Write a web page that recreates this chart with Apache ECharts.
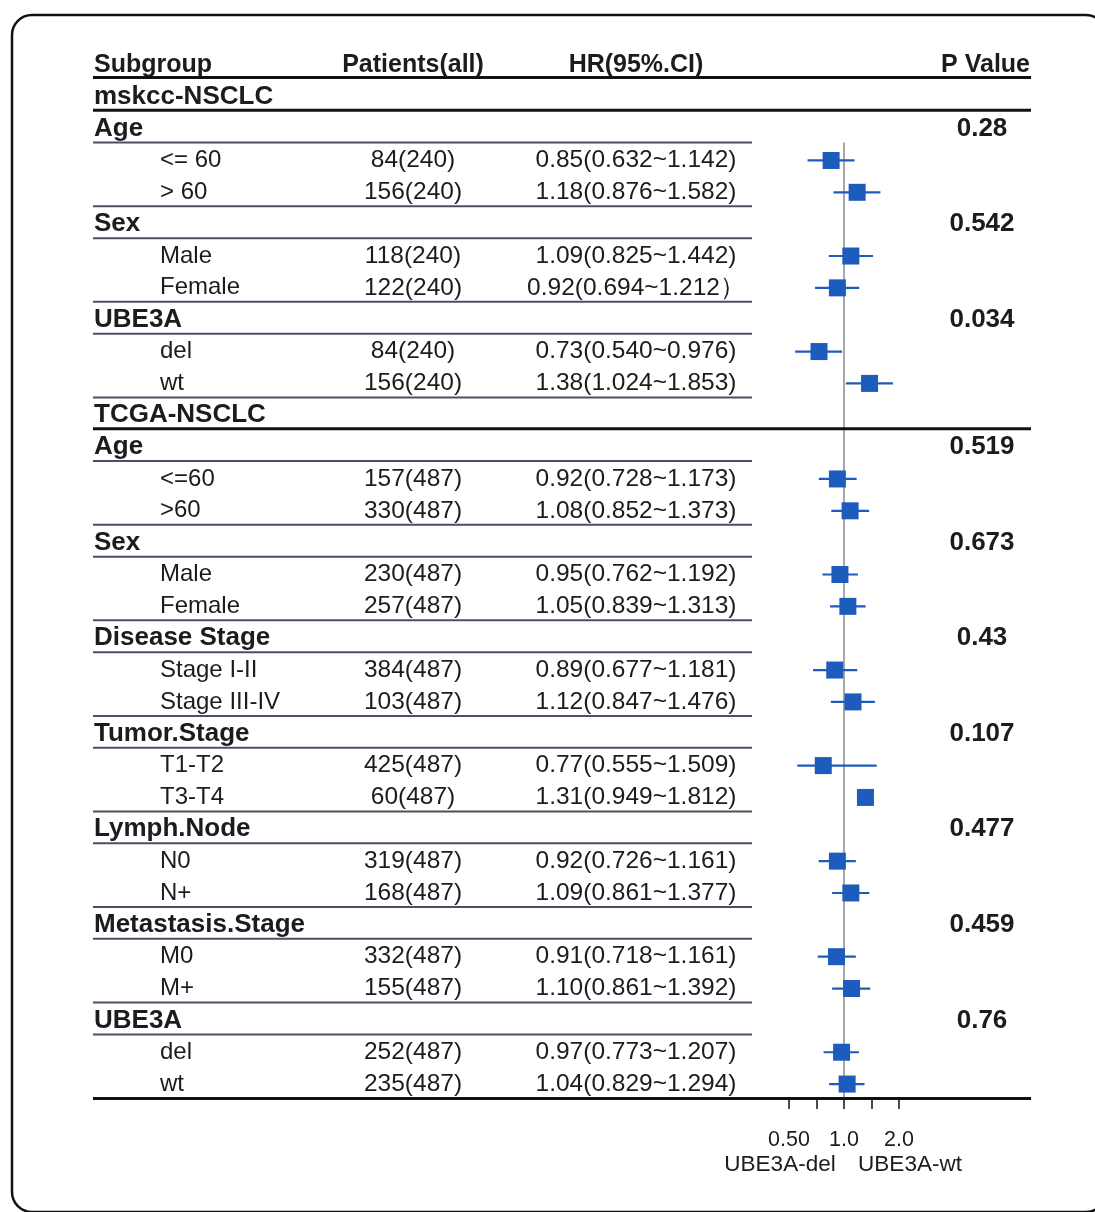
<!DOCTYPE html>
<html>
<head>
<meta charset="utf-8">
<script src="https://cdn.jsdelivr.net/npm/echarts@6/dist/echarts.min.js"></script>
<style>
  html, body { margin: 0; padding: 0; background: #ffffff; }
  #chart { width: 1095px; height: 1212px; }
</style>
</head>
<body>
<div id="chart"></div>
<script>
// ---------------- DATA ----------------
const headerLabels = ['Subgroup', 'Patients(all)', 'HR(95%.CI)', 'P Value'];

const subgroups = ['mskcc-NSCLC', 'Age', '<= 60', '> 60', 'Sex', 'Male', 'Female', 'UBE3A', 'del', 'wt',
  'TCGA-NSCLC', 'Age', '<=60', '>60', 'Sex', 'Male', 'Female', 'Disease Stage', 'Stage I-II', 'Stage III-IV',
  'Tumor.Stage', 'T1-T2', 'T3-T4', 'Lymph.Node', 'N0', 'N+', 'Metastasis.Stage', 'M0', 'M+', 'UBE3A', 'del', 'wt'];

const rowKinds = ['dataset', 'group', 'item', 'item', 'group', 'item', 'item', 'group', 'item', 'item',
  'dataset', 'group', 'item', 'item', 'group', 'item', 'item', 'group', 'item', 'item',
  'group', 'item', 'item', 'group', 'item', 'item', 'group', 'item', 'item', 'group', 'item', 'item'];

const patients = ['', '', '84(240)', '156(240)', '', '118(240)', '122(240)', '', '84(240)', '156(240)',
  '', '', '157(487)', '330(487)', '', '230(487)', '257(487)', '', '384(487)', '103(487)',
  '', '425(487)', '60(487)', '', '319(487)', '168(487)', '', '332(487)', '155(487)', '', '252(487)', '235(487)'];

const hrText = ['', '', '0.85(0.632~1.142)', '1.18(0.876~1.582)', '', '1.09(0.825~1.442)', '0.92(0.694~1.212）', '', '0.73(0.540~0.976)', '1.38(1.024~1.853)',
  '', '', '0.92(0.728~1.173)', '1.08(0.852~1.373)', '', '0.95(0.762~1.192)', '1.05(0.839~1.313)', '', '0.89(0.677~1.181)', '1.12(0.847~1.476)',
  '', '0.77(0.555~1.509)', '1.31(0.949~1.812)', '', '0.92(0.726~1.161)', '1.09(0.861~1.377)', '', '0.91(0.718~1.161)', '1.10(0.861~1.392)', '', '0.97(0.773~1.207)', '1.04(0.829~1.294)'];

const pValues = ['', '0.28', '', '', '0.542', '', '', '0.034', '', '',
  '', '0.519', '', '', '0.673', '', '', '0.43', '', '',
  '0.107', '', '', '0.477', '', '', '0.459', '', '', '0.76', '', ''];

const hr = [null, null, 0.85, 1.18, null, 1.09, 0.92, null, 0.73, 1.38,
  null, null, 0.92, 1.08, null, 0.95, 1.05, null, 0.89, 1.12,
  null, 0.77, 1.31, null, 0.92, 1.09, null, 0.91, 1.10, null, 0.97, 1.04];

// whiskers as drawn in the reference (T3-T4 is drawn without a whisker)
const whiskerLow = [null, null, 0.632, 0.876, null, 0.825, 0.694, null, 0.540, 1.024,
  null, null, 0.728, 0.852, null, 0.762, 0.839, null, 0.677, 0.847,
  null, 0.555, null, null, 0.726, 0.861, null, 0.718, 0.861, null, 0.773, 0.829];
const whiskerHigh = [null, null, 1.142, 1.582, null, 1.442, 1.212, null, 0.976, 1.853,
  null, null, 1.173, 1.373, null, 1.192, 1.313, null, 1.181, 1.476,
  null, 1.509, null, null, 1.161, 1.377, null, 1.161, 1.392, null, 1.207, 1.294];

const axisTickLabels = { '-1': '0.50', '0': '1.0', '1': '2.0' };
const directionLabels = ['UBE3A-del', 'UBE3A-wt'];

// ---------------- LAYOUT / STYLE ----------------
const FONT = '"Liberation Sans", Arial, Helvetica, sans-serif';
const TEXT = '#1c1c1c';
const BLUE = '#1d5bbd';
const COL_LABEL = 94, COL_ITEM = 160, COL_PAT = 413, COL_HR = 636, COL_P = 982, COL_PRIGHT = 1030;
const LINE_L = 93, LINE_THIN_R = 752, LINE_R = 1031;

const nRows = subgroups.length + 1; // header + rows
const rowIdx = Array.from({ length: nRows }, (_, i) => i);
const log2 = v => Math.log(v) / Math.LN2;

function txt(text, x, y, align, size, bold) {
  return {
    type: 'text', x: x, y: y,
    style: {
      text: text, fill: TEXT,
      fontSize: size, fontWeight: bold ? 'bold' : 'normal', fontFamily: FONT,
      align: align, verticalAlign: 'middle',
      textAlign: align, textVerticalAlign: 'middle'
    }
  };
}
function hline(x1, x2, y, w, color) {
  return { type: 'line', shape: { x1: x1, y1: y, x2: x2, y2: y }, style: { stroke: color, lineWidth: w } };
}

function renderTable(params, api) {
  const i = api.value(1);
  const y = api.coord([0, i])[1];
  const ly = y + 14;
  const ch = [];
  if (i === 0) {
    ch.push(txt(headerLabels[0], COL_LABEL, y, 'left', 25, true));
    ch.push(txt(headerLabels[1], COL_PAT, y, 'center', 25, true));
    ch.push(txt(headerLabels[2], COL_HR, y, 'center', 25, true));
    ch.push(txt(headerLabels[3], COL_PRIGHT, y, 'right', 25, true));
    ch.push(hline(LINE_L, LINE_R, y + 12.5, 3, '#111'));
  } else {
    const k = i - 1;
    const kind = rowKinds[k];
    if (kind === 'dataset') {
      ch.push(txt(subgroups[k], COL_LABEL, y, 'left', 26, true));
      ch.push(hline(LINE_L, LINE_R, ly - 0.5, 3, '#111'));
    } else if (kind === 'group') {
      ch.push(txt(subgroups[k], COL_LABEL, y, 'left', 26, true));
      ch.push(txt(pValues[k], COL_P, y, 'center', 26, true));
      ch.push(hline(LINE_L, LINE_THIN_R, ly, 2, '#4e4e60'));
    } else {
      ch.push(txt(subgroups[k], COL_ITEM, y, 'left', 24, false));
      ch.push(txt(patients[k], COL_PAT, y, 'center', 24.5, false));
      ch.push(txt(hrText[k], COL_HR, y, 'center', 24.5, false));
      const next = rowKinds[k + 1];
      if (next === undefined) {
        ch.push(hline(LINE_L, LINE_R, ly + 0.5, 3, '#111'));
      } else if (next !== 'item') {
        ch.push(hline(LINE_L, LINE_THIN_R, ly, 2, '#4e4e60'));
      }
    }
  }
  return { type: 'group', children: ch };
}

function renderForest(params, api) {
  const i = api.value(1);
  const c = api.coord([api.value(0), i]);
  const lo = api.value(2), hi = api.value(3);
  const ch = [];
  if (!isNaN(lo) && !isNaN(hi)) {
    const a = api.coord([lo, i]), b = api.coord([hi, i]);
    ch.push({ type: 'line', shape: { x1: a[0], y1: c[1], x2: b[0], y2: c[1] }, style: { stroke: BLUE, lineWidth: 2.2 } });
  }
  ch.push({ type: 'rect', shape: { x: c[0] - 8.5, y: c[1] - 8.5, width: 17, height: 17 }, style: { fill: BLUE } });
  return { type: 'group', children: ch };
}

function renderRef(params, api) {
  const top = api.coord([0, api.value(1)]);
  const bot = api.coord([0, api.value(2)]);
  return { type: 'line', shape: { x1: top[0], y1: top[1] + 14, x2: bot[0], y2: bot[1] + 14 }, style: { stroke: '#a8a8a8', lineWidth: 2 } };
}

const forestData = [];
hr.forEach((v, k) => {
  if (v != null) {
    forestData.push([log2(v), k + 1,
      whiskerLow[k] != null ? log2(whiskerLow[k]) : '-',
      whiskerHigh[k] != null ? log2(whiskerHigh[k]) : '-']);
  }
});
const firstGroupRow = rowKinds.indexOf('group') + 1;

const chart = echarts.init(document.getElementById('chart'), null, { renderer: 'canvas' });
chart.setOption({
  backgroundColor: '#ffffff',
  animation: false,
  grid: { left: 789, width: 110, top: 49, height: 1051 },
  xAxis: {
    type: 'value', min: -1, max: 1, interval: 0.5,
    axisLine: { show: false },
    splitLine: { show: false },
    axisTick: { show: true, length: 9, lineStyle: { color: '#111', width: 1.5 } },
    axisLabel: {
      formatter: v => axisTickLabels[String(v)] || '',
      fontSize: 21.5, color: TEXT, fontFamily: FONT, margin: 29
    }
  },
  yAxis: { type: 'category', data: rowIdx, inverse: true, show: false },
  graphic: [
    { type: 'rect', shape: { x: 12, y: 15, width: 1094, height: 1197, r: 20 }, style: { fill: 'none', stroke: '#111', lineWidth: 2.5 }, z: 0 },
    { type: 'text', x: 780, y: 1165, style: { text: directionLabels[0], fill: TEXT, fontSize: 22.5, fontFamily: FONT, align: 'center', verticalAlign: 'middle', textAlign: 'center', textVerticalAlign: 'middle' } },
    { type: 'text', x: 910, y: 1165, style: { text: directionLabels[1], fill: TEXT, fontSize: 22.5, fontFamily: FONT, align: 'center', verticalAlign: 'middle', textAlign: 'center', textVerticalAlign: 'middle' } }
  ],
  series: [
    { type: 'custom', name: 'ref', renderItem: renderRef, data: [[0, firstGroupRow, nRows - 1]], encode: { x: 0, y: 1 }, clip: false, z: 1, silent: true },
    { type: 'custom', name: 'forest', renderItem: renderForest, data: forestData, encode: { x: 0, y: 1 }, clip: false, z: 3, silent: true },
    { type: 'custom', name: 'table', renderItem: renderTable, data: rowIdx.map(i => [0, i]), encode: { x: 0, y: 1 }, clip: false, z: 2, silent: true }
  ]
});
</script>
</body>
</html>
